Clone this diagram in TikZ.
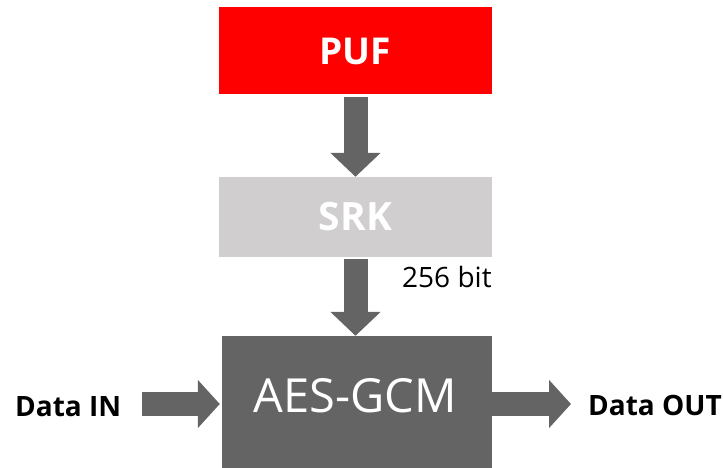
\documentclass[tikz,border=0pt]{standalone}
\usepackage{fontspec}
\setmainfont{Open Sans}
\usetikzlibrary{arrows.meta}
\definecolor{pufred}{HTML}{FF0000}
\definecolor{srkgray}{HTML}{D0CECE}
\definecolor{aesgray}{HTML}{646464}
\definecolor{arrowgray}{HTML}{646464}
\tikzset{
  block/.style={draw=none, inner sep=0pt, minimum width=273pt, text=white},
  blockarrow/.style={draw=arrowgray, line width=24pt,
    -{Triangle[width=49pt,length=24pt]}},
  sidearrow/.style={draw=arrowgray, line width=24pt,
    -{Triangle[width=47pt,length=22pt]}},
  plain/.style={inner sep=0pt, text=black}
}
\begin{document}
\begin{tikzpicture}[x=1pt,y=-1pt]
\useasboundingbox (0,0) rectangle (723,468);
% key source, derived key and cipher blocks
\node[block, fill=pufred, minimum height=87pt, font=\bfseries\fontsize{37}{40}\selectfont] (puf) at (355.5,51) {PUF};
\node[block, fill=srkgray, minimum height=80pt, font=\bfseries\fontsize{39}{42}\selectfont] (srk) at (355.5,217) {SRK};
\fill[aesgray] (222,336) rectangle (492,470);
\node[inner sep=0pt, minimum width=270pt, minimum height=132pt] (aes) at (357,402) {};
\node[inner sep=0pt, text=white, anchor=base, font=\fontsize{47}{50}\selectfont] (aeslabel) at (355,412) {AES-GCM};
% key path
\draw[blockarrow, shorten <=2pt] (puf.south) -- (srk.north);
\draw[blockarrow, shorten <=2pt] (srk.south) -- (srk.south |- aes.north);
\node[plain, anchor=base west, font=\fontsize{28}{30}\selectfont] (keylen) at (402,287) {256 bit};
% data path
\node[plain, anchor=base west, font=\bfseries\fontsize{28}{30}\selectfont] (datain) at (15,416) {Data IN};
\node[plain, anchor=base west, font=\bfseries\fontsize{28}{30}\selectfont] (dataout) at (588,415) {Data OUT};
\coordinate (inS) at (142,404);
\coordinate (outE) at (571,404);
\draw[sidearrow, shorten >=2pt] (inS) -- (aes.west |- inS);
\draw[sidearrow] (aes.east |- outE) -- (outE);
\end{tikzpicture}
\end{document}
